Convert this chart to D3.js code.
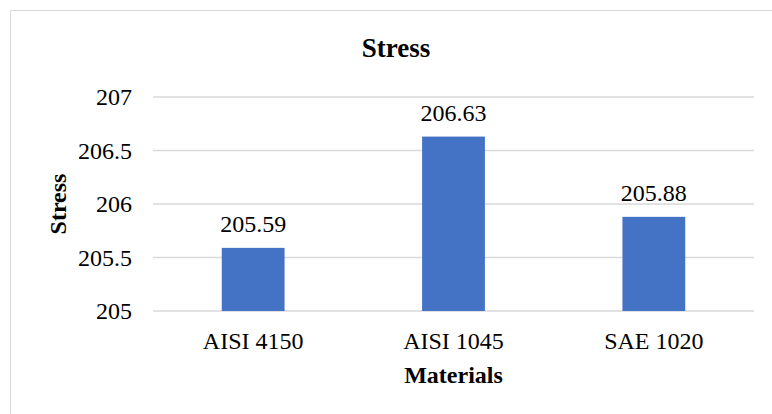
<!DOCTYPE html>
<html>
<head>
<meta charset="utf-8">
<script src="https://cdn.jsdelivr.net/npm/d3@7"></script>
<style>
  html, body { margin: 0; padding: 0; background: #fff; }
  svg { display: block; }
  text { font-family: "Liberation Serif", "Times New Roman", serif; fill: #000; }
</style>
</head>
<body>
<svg id="chart" width="772" height="414"></svg>
<script>
// Chart data
const materials = ["AISI 4150", "AISI 1045", "SAE 1020"];
const stress = [205.59, 206.63, 205.88];
const yTicks = [205, 205.5, 206, 206.5, 207];

const svg = d3.select("#chart");

// Chart frame
svg.append("rect")
  .attr("x", 10.5).attr("y", 10.5)
  .attr("width", 820).attr("height", 520)
  .attr("fill", "#fff")
  .attr("stroke", "#d9d9d9")
  .attr("stroke-width", 1);

const plot = { left: 153, right: 754, top: 97, bottom: 311 };

const x = d3.scaleBand()
  .domain(materials)
  .range([plot.left, plot.right])
  .padding(0);

const y = d3.scaleLinear()
  .domain([205, 207])
  .range([plot.bottom, plot.top]);

// Bar width as a fraction of each category slot (gap width ~219%)
const barFrac = 1 / 3.19;
const barW = x.bandwidth() * barFrac;

// Gridlines
svg.append("g")
  .selectAll("line")
  .data(yTicks)
  .join("line")
  .attr("x1", plot.left).attr("x2", plot.right)
  .attr("y1", d => y(d)).attr("y2", d => y(d))
  .attr("stroke", "#d9d9d9")
  .attr("stroke-width", 1.3);

// Y tick labels
const yAxis = d3.axisLeft(y).tickValues(yTicks).tickSize(0).tickPadding(21)
  .tickFormat(d => String(d));
const gy = svg.append("g")
  .attr("transform", `translate(${plot.left},0)`)
  .call(yAxis);
gy.select(".domain").remove();
gy.selectAll("text")
  .attr("font-size", 24)
  .attr("fill", "#000")
  .attr("dy", "0.33em");

// Bars
svg.append("g")
  .selectAll("rect")
  .data(materials.map((m, i) => ({ m, v: stress[i] })))
  .join("rect")
  .attr("x", d => x(d.m) + (x.bandwidth() - barW) / 2)
  .attr("width", barW)
  .attr("y", d => y(d.v))
  .attr("height", d => y(205) - y(d.v))
  .attr("fill", "#4472c4");

// Value labels
svg.append("g")
  .selectAll("text")
  .data(materials.map((m, i) => ({ m, v: stress[i] })))
  .join("text")
  .attr("x", d => x(d.m) + x.bandwidth() / 2)
  .attr("y", d => y(d.v) - 16)
  .attr("text-anchor", "middle")
  .attr("font-size", 24)
  .text(d => d.v.toFixed(2));

// X tick labels
const xAxis = d3.axisBottom(x).tickSize(0).tickPadding(0);
const gx = svg.append("g")
  .attr("transform", `translate(0,${plot.bottom})`)
  .call(xAxis);
gx.select(".domain").remove();
gx.selectAll("text")
  .attr("font-size", 24)
  .attr("fill", "#000")
  .attr("dy", null)
  .attr("y", 38);

// Title
svg.append("text")
  .attr("x", 396).attr("y", 57)
  .attr("text-anchor", "middle")
  .attr("font-size", 27)
  .attr("font-weight", "bold")
  .text("Stress");

// Axis titles
svg.append("text")
  .attr("x", (plot.left + plot.right) / 2).attr("y", 383)
  .attr("text-anchor", "middle")
  .attr("font-size", 24)
  .attr("font-weight", "bold")
  .text("Materials");

svg.append("text")
  .attr("transform", `translate(66,${(plot.top + plot.bottom) / 2}) rotate(-90)`)
  .attr("text-anchor", "middle")
  .attr("font-size", 24)
  .attr("font-weight", "bold")
  .text("Stress");
</script>
</body>
</html>
